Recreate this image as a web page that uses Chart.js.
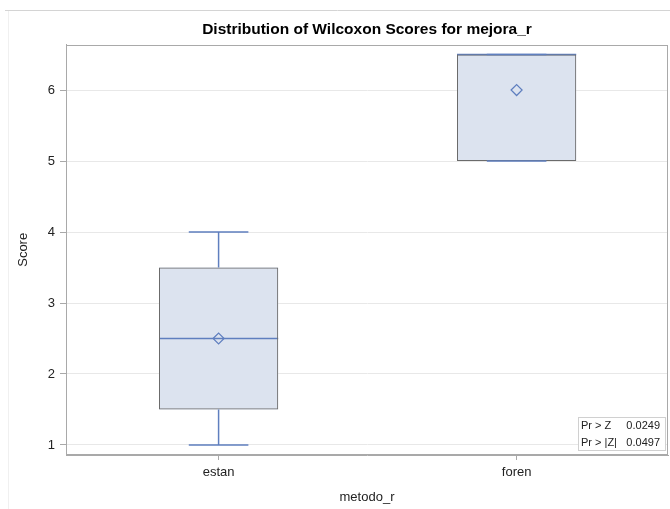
<!DOCTYPE html>
<html>
<head>
<meta charset="utf-8">
<script src="https://cdn.jsdelivr.net/npm/chart.js@4"></script>
<style>
  html, body { margin: 0; padding: 0; background: #fff; }
  #wrap { position: relative; width: 670px; height: 509px; }
</style>
</head>
<body>
<div id="wrap"><canvas id="c" width="670" height="509"></canvas></div>
<script>
// ---- data ----
const categories = ['estan', 'foren'];
const minVals    = [1, 5];
const q1Vals     = [1.5, 5];
const medianVals = [2.5, 6.5];
const meanVals   = [2.5, 6];
const q3Vals     = [3.5, 6.5];
const maxVals    = [4, 6.5];
const yTicks     = [1, 2, 3, 4, 5, 6];
const statLabels = ['Pr > Z', 'Pr > |Z|'];
const statValues = ['0.0249', '0.0497'];

// ---- styles ----
const FONT = "'Liberation Sans', Arial, sans-serif";
const BLUE = '#5f7fbf';
const BOX_FILL = '#dce3ef';
const BOX_EDGE = '#6b6b6b';
const CAP_HALF = 0.1;
const MED_HALF = 0.2;

const xPos = categories.map((c, i) => i + 1);

const boxData = categories.map((c, i) => ({ x: xPos[i], y: [q1Vals[i], q3Vals[i]] }));
const whiskerData = [];
const capData = [];
const medianData = [];
categories.forEach((c, i) => {
  whiskerData.push({ x: xPos[i], y: minVals[i] }, { x: xPos[i], y: q1Vals[i] }, { x: xPos[i], y: null });
  whiskerData.push({ x: xPos[i], y: q3Vals[i] }, { x: xPos[i], y: maxVals[i] }, { x: xPos[i], y: null });
  capData.push({ x: xPos[i] - CAP_HALF, y: minVals[i] }, { x: xPos[i] + CAP_HALF, y: minVals[i] }, { x: xPos[i], y: null });
  capData.push({ x: xPos[i] - CAP_HALF, y: maxVals[i] }, { x: xPos[i] + CAP_HALF, y: maxVals[i] }, { x: xPos[i], y: null });
  medianData.push({ x: xPos[i] - MED_HALF, y: medianVals[i] }, { x: xPos[i] + MED_HALF, y: medianVals[i] }, { x: xPos[i], y: null });
});
const meanData = categories.map((c, i) => ({ x: xPos[i], y: meanVals[i] }));

const framePlugin = {
  id: 'frame',
  beforeDraw(chart) {
    const ctx = chart.ctx;
    ctx.save();
    ctx.strokeStyle = '#d4d4d4';
    ctx.lineWidth = 1;
    ctx.beginPath();
    ctx.moveTo(5, 10.5); ctx.lineTo(670, 10.5);
    ctx.stroke();
    ctx.strokeStyle = '#f0f0f0';
    ctx.beginPath();
    ctx.moveTo(8.5, 11); ctx.lineTo(8.5, 509);
    ctx.stroke();
    ctx.restore();
  },
  afterDraw(chart) {
    const ctx = chart.ctx;
    const a = chart.chartArea;
    ctx.save();
    ctx.strokeStyle = '#a9a9a9';
    ctx.lineWidth = 1;
    ctx.strokeRect(Math.round(a.left) + 0.5, Math.round(a.top) + 0.5, Math.round(a.right - a.left) - 1, Math.round(a.bottom - a.top) - 1);
    // inset stats table
    const w = 87, h = 33;
    const bx = Math.round(a.right) - 90, by = Math.round(a.bottom) - 38;
    ctx.fillStyle = '#ffffff';
    ctx.fillRect(bx, by, w, h);
    ctx.strokeStyle = '#d0d0d0';
    ctx.strokeRect(bx + 0.5, by + 0.5, w, h);
    ctx.fillStyle = '#222';
    ctx.font = '11px ' + FONT;
    ctx.textBaseline = 'middle';
    statLabels.forEach((lab, i) => {
      const ty = by + 9 + i * 16.5;
      ctx.textAlign = 'left';
      ctx.fillText(lab, bx + 3, ty);
      ctx.textAlign = 'right';
      ctx.fillText(statValues[i], bx + w - 5, ty);
    });
    ctx.restore();
  }
};

new Chart(document.getElementById('c'), {
  type: 'bar',
  data: {
    datasets: [
      { type: 'bar', data: boxData, backgroundColor: BOX_FILL, borderWidth: 0, grouped: false,
        barPercentage: 0.4, categoryPercentage: 1, order: 6 },
      { type: 'line', data: medianData, borderColor: BLUE, borderWidth: 1.5, pointRadius: 0, spanGaps: false, order: 5 },
      { type: 'bar', data: boxData, backgroundColor: 'rgba(0,0,0,0)', borderColor: BOX_EDGE, borderWidth: 1,
        borderSkipped: false, grouped: false, barPercentage: 0.4, categoryPercentage: 1, order: 4 },
      { type: 'line', data: whiskerData, borderColor: BLUE, borderWidth: 1.5, pointRadius: 0, spanGaps: false, order: 3 },
      { type: 'line', data: capData, borderColor: BLUE, borderWidth: 1.5, pointRadius: 0, spanGaps: false, order: 2 },
      { type: 'scatter', data: meanData, pointStyle: 'rectRot', pointRadius: 5.5, borderColor: BLUE, borderWidth: 1.2,
        backgroundColor: 'rgba(0,0,0,0)', order: 1 }
    ]
  },
  options: {
    responsive: false,
    animation: false,
    events: [],
    layout: { autoPadding: false, padding: { left: 0, right: 2, top: 0, bottom: 0 } },
    plugins: {
      legend: { display: false },
      tooltip: { enabled: false },
      title: {
        display: true,
        text: 'Distribution of Wilcoxon Scores for mejora_r',
        fullSize: false,
        color: '#000',
        font: { family: FONT, size: 15.5, weight: 'bold' },
        padding: { top: 20, bottom: 6 }
      }
    },
    scales: {
      x: {
        type: 'linear',
        offset: false,
        min: 0.488,
        max: 2.508,
        afterBuildTicks(scale) { scale.ticks = xPos.map(v => ({ value: v })); },
        afterFit(scale) { scale.height = 54; scale.paddingLeft = 0; scale.paddingRight = 0; },
        ticks: {
          autoSkip: false,
          color: '#222',
          font: { family: FONT, size: 13 },
          padding: 5,
          callback: (v) => categories[xPos.indexOf(v)] ?? ''
        },
        grid: { offset: false, drawOnChartArea: false, tickLength: 5, color: '#a9a9a9' },
        border: { display: true, color: '#a9a9a9' },
        title: { display: true, text: 'metodo_r', color: '#222', font: { family: FONT, size: 13 }, padding: { top: 4, bottom: 4 } }
      },
      y: {
        type: 'linear',
        min: 0.859,
        max: 6.64,
        afterBuildTicks(scale) { scale.ticks = yTicks.map(v => ({ value: v })); },
        afterFit(scale) { scale.width = 66; scale.paddingTop = 0; scale.paddingBottom = 0; },
        ticks: { color: '#222', font: { family: FONT, size: 13 }, padding: 5 },
        grid: { color: '#e8e8e8', tickLength: 6, tickColor: '#a9a9a9' },
        border: { display: true, color: '#a9a9a9' },
        title: { display: true, text: 'Score', color: '#222', font: { family: FONT, size: 13 }, padding: { top: 16, bottom: 0 } }
      }
    }
  },
  plugins: [framePlugin]
});
</script>
</body>
</html>
